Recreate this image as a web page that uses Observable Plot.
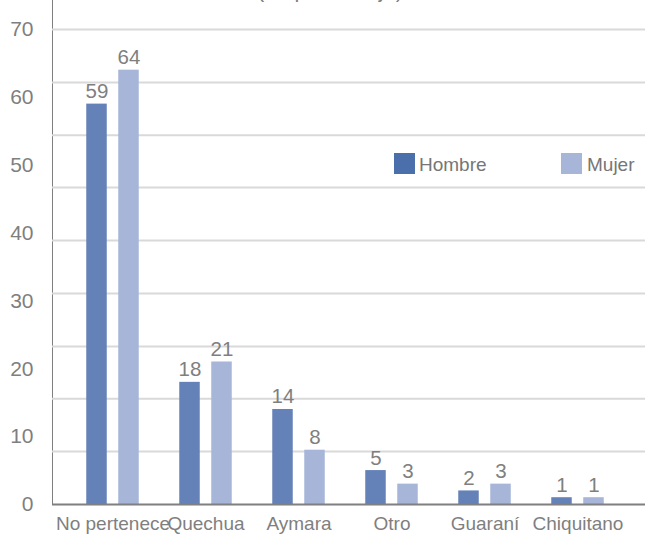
<!DOCTYPE html>
<html>
<head>
<meta charset="utf-8">
<script src="https://cdn.jsdelivr.net/npm/d3@7"></script>
<script src="https://cdn.jsdelivr.net/npm/@observablehq/plot@0.6"></script>
<style>
  html, body { margin: 0; padding: 0; background: #fff; overflow: hidden; }
  #wrap { position: relative; width: 646px; height: 535px; overflow: hidden;
          font-family: "Liberation Sans", Arial, sans-serif; color: #7f7f7f; }
  #title { position: absolute; left: 14px; top: -21px; width: 632px; text-align: center;
           font-size: 21.7px; line-height: 21.7px; color: #7f7f7f; }
  .lg-sw { position: absolute; width: 21px; height: 21px; }
  .lg-tx { position: absolute; font-size: 19px; line-height: 19px; color: #767676; }
  #chart svg g[aria-label$="axis line"] * , #chart svg g[aria-label="y-axis"] path { stroke-width: 2px; }
  #chart svg g[aria-label="y-axis tick label"] text { font-size: 21px; }
</style>
</head>
<body>
<div id="wrap">
  <div id="chart"></div>
  <div id="title">(en porcentaje)</div>
  <div class="lg-sw" style="left:394px;top:153px;background:#4a6fab"></div>
  <div class="lg-tx" style="left:419px;top:155px">Hombre</div>
  <div class="lg-sw" style="left:561px;top:153px;background:#a6b5d8"></div>
  <div class="lg-tx" style="left:587px;top:155px">Mujer</div>
</div>
<script>
const categories = ["No pertenece", "Quechua", "Aymara", "Otro", "Guaraní", "Chiquitano"];
const hombre = [59, 18, 14, 5, 2, 1];
const mujer = [64, 21, 8, 3, 3, 1];
const yTicks = [0, 10, 20, 30, 40, 50, 60, 70];
const gridValues = [7.8, 15.6, 23.3, 31.1, 38.9, 46.7, 54.4, 62.2, 70];

const dataH = categories.map((c, i) => ({cat: c, sexo: "Hombre", v: hombre[i]}));
const dataM = categories.map((c, i) => ({cat: c, sexo: "Mujer", v: mujer[i]}));

const chart = Plot.plot({
  width: 646,
  height: 535,
  marginLeft: 52,
  marginRight: 1,
  marginTop: 0,
  marginBottom: 31,
  style: {
    fontSize: "19px",
    fontFamily: '"Liberation Sans", Arial, sans-serif',
    color: "#7f7f7f",
    background: "transparent"
  },
  x: {domain: categories, range: [64, 625], padding: 0, tickSize: 0, tickPadding: 12, label: null},
  y: {domain: [0, 72.5], range: [504, 12], ticks: yTicks, tickSize: 0, tickPadding: 19, label: null, line: true},
  marks: [
    Plot.ruleY(gridValues, {stroke: "#d9d9d9", strokeWidth: 2}),
    Plot.barY(dataH, {x: "cat", y: "v", fill: "#6582b8", insetLeft: 20.25, insetRight: 52.25}),
    Plot.barY(dataM, {x: "cat", y: "v", fill: "#a7b5d9", insetLeft: 52.25, insetRight: 20.25}),
    Plot.ruleY([0], {stroke: "#7f7f7f", strokeWidth: 2}),
    Plot.text(dataH, {x: "cat", y: "v", text: d => String(d.v), dx: -16, dy: -6, lineAnchor: "bottom", fill: "#7f7f7f", fontSize: 20.5}),
    Plot.text(dataM, {x: "cat", y: "v", text: d => String(d.v), dx: 16, dy: -6, lineAnchor: "bottom", fill: "#7f7f7f", fontSize: 20.5})
  ]
});
document.getElementById("chart").appendChild(chart);
</script>
</body>
</html>
